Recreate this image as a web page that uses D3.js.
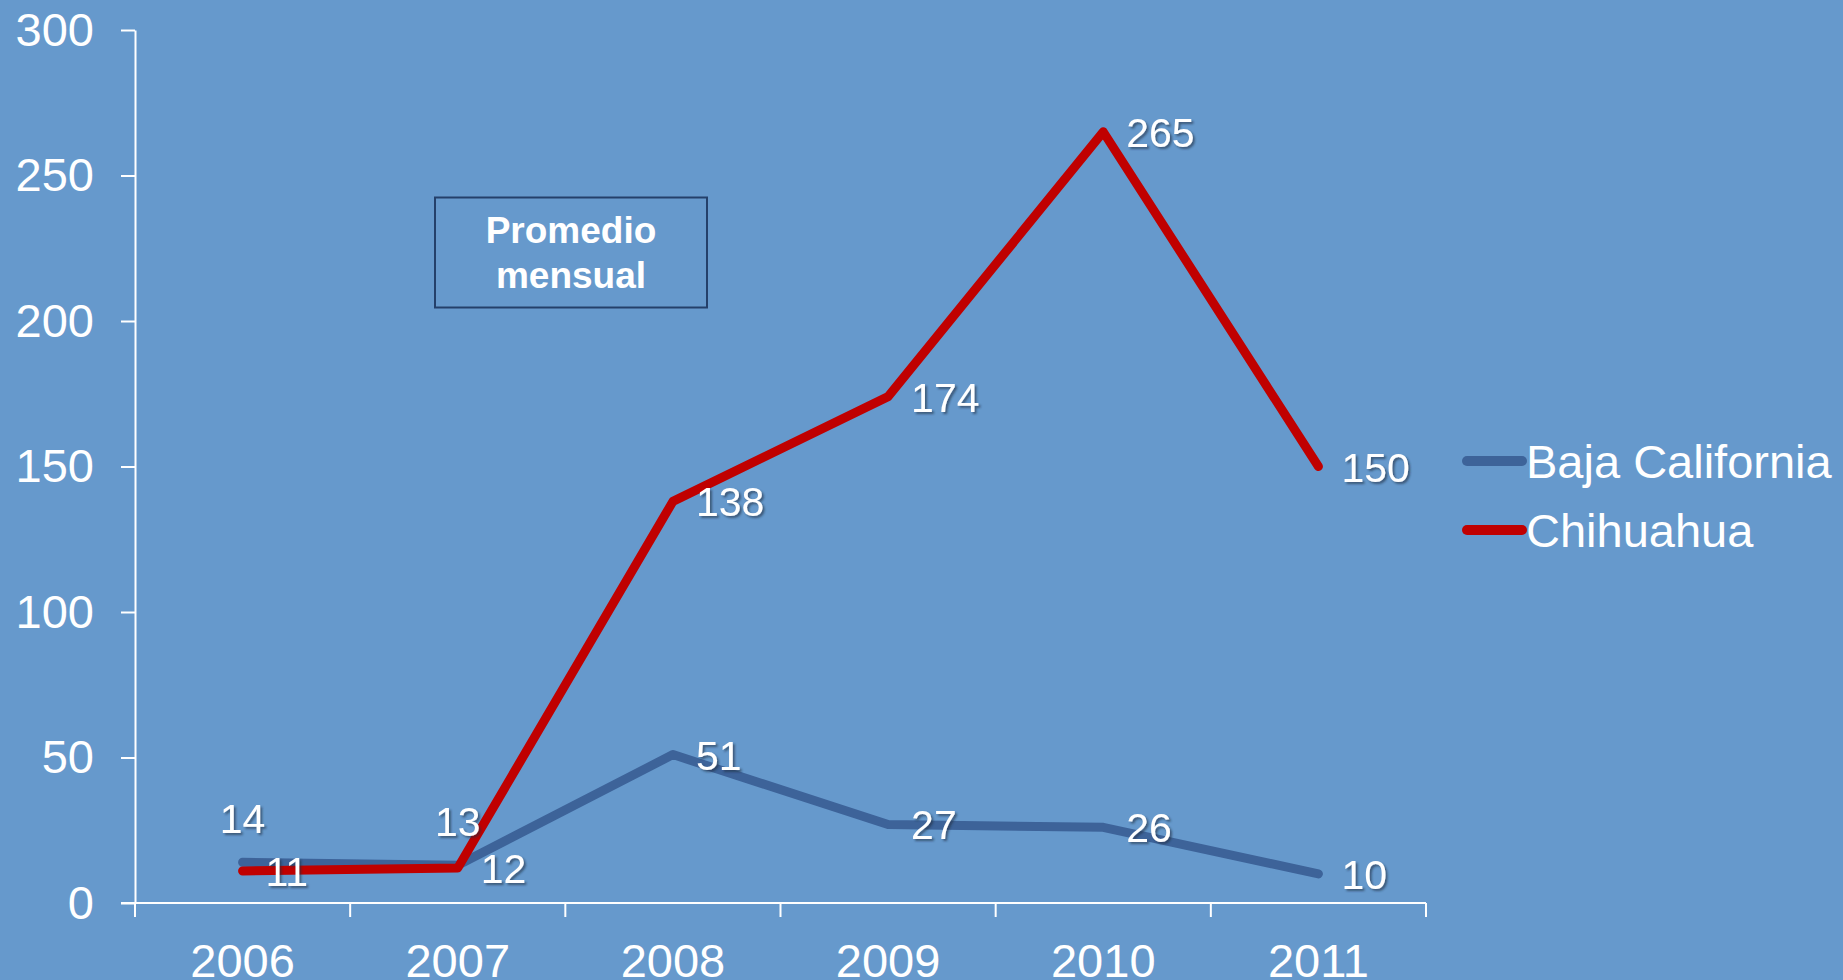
<!DOCTYPE html>
<html>
<head>
<meta charset="utf-8">
<script src="https://cdn.jsdelivr.net/npm/d3@7"></script>
<style>
  html, body { margin: 0; padding: 0; background: #6699cc; overflow: hidden; }
  svg { display: block; font-family: "Liberation Sans", Arial, sans-serif; }
</style>
</head>
<body>
<div id="chart"></div>
<script>
// data
var years = ["2006", "2007", "2008", "2009", "2010", "2011"];
var bajaCalifornia = [14, 13, 51, 27, 26, 10];
var chihuahua = [11, 12, 138, 174, 265, 150];
var yTicks = [0, 50, 100, 150, 200, 250, 300];
var seriesNames = ["Baja California", "Chihuahua"];
var seriesColors = ["#3d6399", "#c00000"];
// where each label sits relative to its point
var bajaLabelPos = ["top", "top", "right", "right", "right", "right"];

var W = 1843, H = 980;
var margin = {top: 30, left: 135, right: 417, bottom: 77};

var svg = d3.select("#chart")
  .append("svg")
    .attr("width", W)
    .attr("height", H);

svg.append("rect").attr("width", W).attr("height", H).attr("fill", "#6699cc");

// drop shadow for data labels
var f = svg.append("defs").append("filter").attr("id", "shadow")
  .attr("x", "-20%").attr("y", "-20%").attr("width", "140%").attr("height", "140%");
f.append("feDropShadow").attr("dx", 2).attr("dy", 2).attr("stdDeviation", 1.2)
  .attr("flood-color", "#1a2a40").attr("flood-opacity", 0.6);

var x = d3.scaleBand()
  .domain(years)
  .range([margin.left, W - margin.right]);

var y = d3.scaleLinear()
  .domain([0, 300])
  .range([H - margin.bottom, margin.top]);

// Y axis
var yAxis = svg.append("g")
  .attr("transform", "translate(" + margin.left + ",0)")
  .call(d3.axisLeft(y).tickValues(yTicks).tickSize(14).tickPadding(27).tickSizeOuter(0));
yAxis.select(".domain").attr("stroke", "white").attr("stroke-width", 2);
yAxis.selectAll(".tick line").attr("stroke", "white").attr("stroke-width", 2);
yAxis.selectAll(".tick text").attr("fill", "white").attr("font-size", "47px")
  .attr("font-family", "Liberation Sans, Arial, sans-serif");

// X axis: line + ticks at band edges, labels at band centres
var x0 = y(0);
var xAxis = svg.append("g");
xAxis.append("line")
  .attr("x1", margin.left - 14).attr("x2", x.range()[1])
  .attr("y1", x0).attr("y2", x0)
  .attr("stroke", "white").attr("stroke-width", 2);
var edges = years.map(function(d) { return x(d); }).concat([x.range()[1]]);
xAxis.selectAll(".edge")
  .data(edges)
  .enter()
  .append("line")
    .attr("x1", function(d) { return d; }).attr("x2", function(d) { return d; })
    .attr("y1", x0).attr("y2", x0 + 14)
    .attr("stroke", "white").attr("stroke-width", 2);
xAxis.selectAll(".lbl")
  .data(years)
  .enter()
  .append("text")
    .attr("x", function(d) { return x(d) + x.bandwidth() / 2; })
    .attr("y", x0 + 74)
    .attr("text-anchor", "middle")
    .attr("fill", "white")
    .attr("font-size", "47px")
    .text(function(d) { return d; });

// Lines
var cx = function(i) { return x(years[i]) + x.bandwidth() / 2; };
var line = d3.line()
  .x(function(d, i) { return cx(i); })
  .y(function(d) { return y(d); });

[bajaCalifornia, chihuahua].forEach(function(vals, s) {
  svg.append("path")
    .datum(vals)
    .attr("d", line)
    .attr("fill", "none")
    .attr("stroke", seriesColors[s])
    .attr("stroke-width", 9)
    .attr("stroke-linecap", "round")
    .attr("stroke-linejoin", "round");
});

// Data labels
function addLabels(vals, positions) {
  svg.append("g").selectAll("text")
    .data(vals)
    .enter()
    .append("text")
      .attr("x", function(d, i) { return positions[i] == "top" ? cx(i) : cx(i) + 23; })
      .attr("y", function(d, i) { return positions[i] == "top" ? y(d) - 29 : y(d) + 15; })
      .attr("text-anchor", function(d, i) { return positions[i] == "top" ? "middle" : "start"; })
      .attr("fill", "white")
      .attr("font-size", "41px")
      .attr("filter", "url(#shadow)")
      .text(function(d) { return d; });
}
addLabels(bajaCalifornia, bajaLabelPos);
addLabels(chihuahua, chihuahua.map(function() { return "right"; }));

// "Promedio mensual" box
var box = svg.append("g");
box.append("rect")
  .attr("x", 435).attr("y", 197.5).attr("width", 272).attr("height", 110)
  .attr("fill", "none").attr("stroke", "#24406a").attr("stroke-width", 2);
box.append("text").attr("x", 571).attr("y", 243).attr("text-anchor", "middle")
  .attr("fill", "white").attr("font-size", "37px").attr("font-weight", "bold").text("Promedio");
box.append("text").attr("x", 571).attr("y", 288).attr("text-anchor", "middle")
  .attr("fill", "white").attr("font-size", "37px").attr("font-weight", "bold").text("mensual");

// Legend
var legend = svg.append("g").selectAll("g")
  .data(seriesNames)
  .enter()
  .append("g")
    .attr("transform", function(d, i) { return "translate(1467," + (461 + i * 69) + ")"; });
legend.append("line")
  .attr("x1", 0).attr("x2", 55).attr("y1", 0).attr("y2", 0)
  .attr("stroke", function(d, i) { return seriesColors[i]; })
  .attr("stroke-width", 10)
  .attr("stroke-linecap", "round");
legend.append("text")
  .attr("x", 59).attr("y", 17)
  .attr("fill", "white")
  .attr("font-size", "47px")
  .text(function(d) { return d; });
</script>
</body>
</html>
